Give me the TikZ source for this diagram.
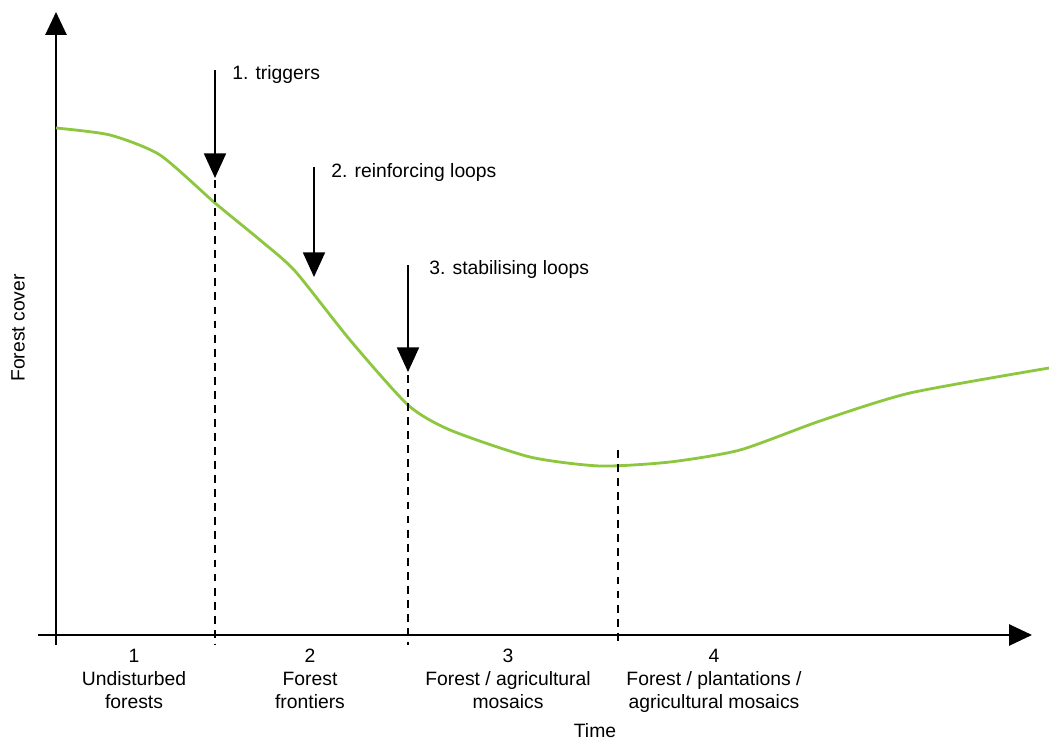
\documentclass[tikz,border=0pt]{standalone}
\usepackage{fontspec}
\setmainfont{Liberation Sans}
\usetikzlibrary{arrows.meta}

\definecolor{forestgreen}{HTML}{8DC63F}

\begin{document}
\begin{tikzpicture}[x={(0.02cm,0)}, y={(0,-0.02cm)},
    axis/.style={black, line width=1.1pt},
    bigtip/.style={-{Triangle[width=12pt,length=13pt]}},
    driver/.style={black, line width=1.1pt, -{Triangle[width=12.5pt,length=14pt]}},
    phase/.style={black, line width=1.1pt, dash pattern=on 4.5pt off 3.5pt},
    lbl/.style={font=\fontsize{11}{13}\selectfont, inner sep=0pt},
    stage/.style={lbl, align=center, anchor=north}]
    \useasboundingbox (0,0) rectangle (1049,740);

    % Axes
    \coordinate (origin) at (56,635);
    \coordinate (ytop) at (56,12);
    \coordinate (ybot) at (56,645);
    \coordinate (xleft) at (38,635);
    \coordinate (xright) at (1032,635);
    \draw[axis, bigtip] (ybot) -- (ytop);
    \draw[axis, bigtip] (xleft) -- (xright);

    % Forest cover curve
    \draw[forestgreen, line width=1.6pt] plot[smooth, tension=0.4] coordinates {
        (56,128) (110,135) (160,155) (215,203) (260,240) (295,271) (350,340) (408,405)
        (450,430) (530,457) (600,466) (670,462) (740,450) (820,421) (910,393) (1049,368)
    };

    % Phase boundaries
    \foreach \name/\x/\y in {one/215/180, two/408/375, three/618/450} {
        \coordinate (\name top) at (\x,\y);
        \coordinate (\name bot) at (\x,645);
        \draw[phase] (\name top) -- (\name bot);
    }

    % Drivers
    \coordinate (trigstart) at (215,70);
    \coordinate (trigend) at (215,178);
    \coordinate (reinstart) at (314,167);
    \coordinate (reinend) at (314,277);
    \coordinate (stabstart) at (408,265);
    \coordinate (stabend) at (408,372);
    \draw[driver] (trigstart) -- (trigend);
    \draw[driver] (reinstart) -- (reinend);
    \draw[driver] (stabstart) -- (stabend);
    \node[lbl, anchor=west] (trig) at (232,75) {1. triggers};
    \node[lbl, anchor=west] (rein) at (331,173) {2. reinforcing loops};
    \node[lbl, anchor=west] (stab) at (429,270) {3. stabilising loops};

    % Stages
    \node[stage] (stage1) at (134,649) {1\\Undisturbed\\forests};
    \node[stage] (stage2) at (310,649) {2\\Forest\\frontiers};
    \node[stage] (stage3) at (508,649) {3\\Forest / agricultural\\mosaics};
    \node[stage] (stage4) at (714,649) {4\\Forest / plantations /\\agricultural mosaics};

    % Axis labels
    \node[lbl] (time) at (595,731) {Time};
    \node[lbl, rotate=90] (cover) at (18,328) {Forest cover};
\end{tikzpicture}
\end{document}
